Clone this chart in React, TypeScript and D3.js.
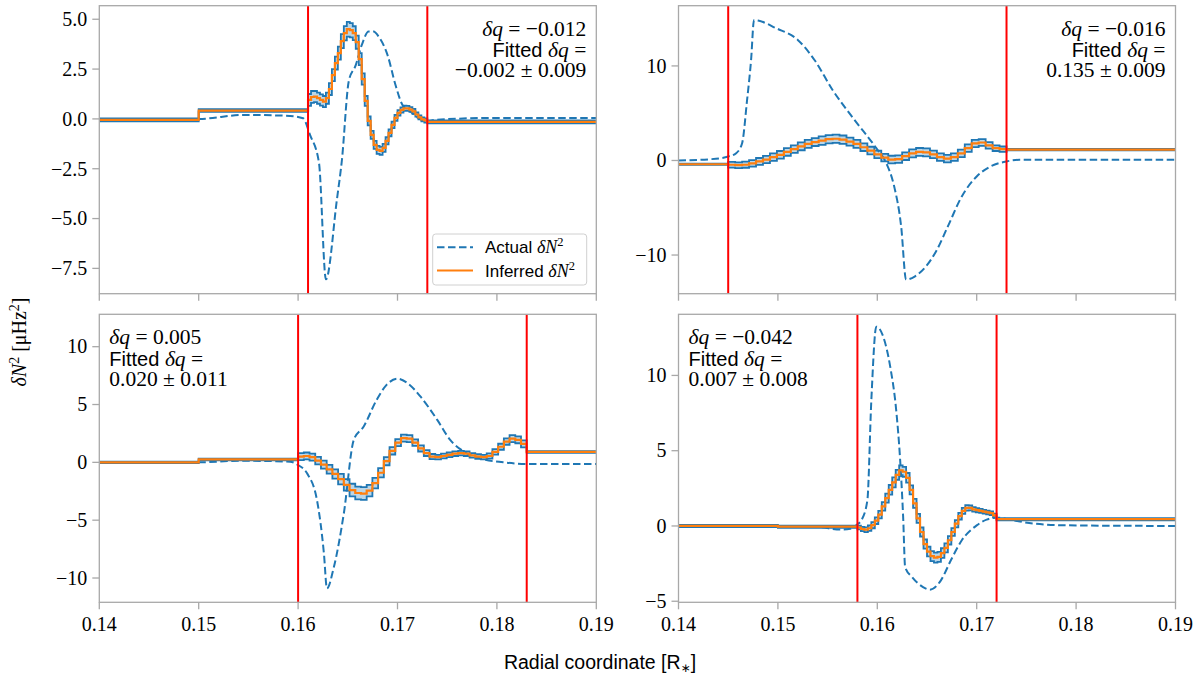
import * as d3 from 'd3'

const xDomain: [number, number] = [0.14, 0.19]
const xTicks = [0.14, 0.15, 0.16, 0.17, 0.18, 0.19]

// top-left panel
const tlActualX = [0.14, 0.15, 0.1545, 0.1592, 0.1605, 0.1612, 0.1621, 0.1628, 0.1639, 0.1644, 0.1651, 0.1658, 0.1664, 0.1671, 0.1676, 0.1681, 0.169, 0.1698, 0.1705, 0.1713, 0.1721, 0.173, 0.1737, 0.18, 0.19]
const tlActualY = [0, 0, 0.2, 0.15, 0.03, -0.8, -2.2, -8.05, -4.06, -2.1, 1.9, 2.7, 3.7, 4.38, 4.38, 4.13, 3.2, 1.7, 0.7, 0.37, 0.04, -0.13, -0.05, 0.05, 0.05]
const tlRed = [0.161, 0.173]
const tlLeftEdges = [0.14, 0.15]
const tlLeftVals = [-0.05, 0.42]
const tlRightVal = -0.15
const tlInner = [0.95, 1.1, 1.12, 1.04, 0.95, 0.87, 1.04, 1.5, 2.2, 2.8, 3.3, 3.9, 4.3, 4.5, 4.45, 4.3, 3.85, 3.0, 2.0, 0.9, -0.1, -0.8, -1.3, -1.55, -1.6, -1.45, -1.1, -0.7, -0.3, 0.05, 0.3, 0.45, 0.53, 0.53, 0.47, 0.38, 0.22, 0.08, -0.02, -0.08]
const tlInnerErr = [0.3, 0.3, 0.28, 0.28, 0.28, 0.28, 0.28, 0.3, 0.3, 0.32, 0.33, 0.35, 0.36, 0.37, 0.36, 0.35, 0.33, 0.3, 0.28, 0.25, 0.22, 0.2, 0.2, 0.2, 0.2, 0.2, 0.18, 0.17, 0.16, 0.15, 0.14, 0.13, 0.13, 0.12, 0.12, 0.12, 0.11, 0.1, 0.1, 0.1]
const tlYTicks = [-7.5, -5.0, -2.5, 0.0, 2.5, 5.0]
const tlYLim: [number, number] = [-8.77, 5.68]

// top-right panel
const trActualX = [0.14, 0.1433, 0.145, 0.1458, 0.1464, 0.1469, 0.1473, 0.1476, 0.148, 0.1498, 0.152, 0.1537, 0.1555, 0.1577, 0.1599, 0.1609, 0.1617, 0.1624, 0.1629, 0.1638, 0.1649, 0.166, 0.1671, 0.1685, 0.17, 0.1714, 0.173, 0.1743, 0.1793, 0.19]
const trActualY = [0, 0.14, 0.42, 0.77, 1.83, 6.4, 10.6, 14.86, 14.8, 14.0, 12.75, 10.6, 7.46, 4.3, 1.3, -0.28, -2.75, -6.97, -12.6, -12.25, -11.2, -9.44, -6.97, -3.8, -1.69, -0.63, -0.1, 0.07, 0.07, 0.07]
const trRed = [0.145, 0.173]
const trLeftEdges = [0.14]
const trLeftVals = [-0.4]
const trRightVal = 1.15
const trInner = [-0.45, -0.5, -0.45, -0.3, -0.1, 0.1, 0.35, 0.6, 0.9, 1.2, 1.5, 1.75, 1.95, 2.1, 2.25, 2.3, 2.2, 2.0, 1.75, 1.4, 1.05, 0.65, 0.3, 0.1, 0.15, 0.45, 0.75, 0.9, 0.85, 0.65, 0.35, 0.2, 0.35, 0.75, 1.3, 1.8, 1.9, 1.6, 1.3, 1.2]
const trInnerErr = [0.3, 0.3, 0.32, 0.34, 0.36, 0.38, 0.4, 0.4, 0.4, 0.4, 0.42, 0.42, 0.42, 0.44, 0.44, 0.44, 0.44, 0.42, 0.42, 0.4, 0.4, 0.4, 0.4, 0.4, 0.4, 0.4, 0.42, 0.42, 0.42, 0.4, 0.4, 0.4, 0.4, 0.4, 0.4, 0.38, 0.36, 0.34, 0.3, 0.28]
const trYTicks = [-10, 0, 10]
const trYLim: [number, number] = [-14.09, 16.37]

// bottom-left panel
const blActualX = [0.14, 0.15, 0.1542, 0.1592, 0.16, 0.1609, 0.1619, 0.1626, 0.1629, 0.1636, 0.1646, 0.1656, 0.1666, 0.1679, 0.1689, 0.17, 0.171, 0.1723, 0.174, 0.1753, 0.1767, 0.1787, 0.181, 0.183, 0.19]
const blActualY = [0, 0, 0.14, 0.06, -0.23, -0.95, -3.27, -7.9, -10.9, -9.05, -4.42, 1.94, 3.1, 5.4, 6.7, 7.23, 6.85, 5.7, 3.67, 1.94, 0.92, 0.26, -0.03, -0.14, -0.14]
const blRed = [0.16, 0.183]
const blLeftEdges = [0.14, 0.15]
const blLeftVals = [0, 0.25]
const blRightVal = 0.9
const blInner = [0.5, 0.55, 0.45, 0.15, -0.2, -0.6, -1.0, -1.45, -1.95, -2.4, -2.65, -2.7, -2.45, -1.8, -0.9, 0.1, 1.0, 1.7, 2.1, 2.05, 1.7, 1.2, 0.8, 0.5, 0.45, 0.55, 0.65, 0.75, 0.8, 0.75, 0.6, 0.5, 0.45, 0.55, 0.9, 1.35, 1.8, 2.05, 1.95, 1.6]
const blInnerErr = [0.3, 0.3, 0.3, 0.32, 0.35, 0.38, 0.4, 0.45, 0.5, 0.55, 0.55, 0.55, 0.5, 0.45, 0.4, 0.35, 0.32, 0.3, 0.3, 0.3, 0.28, 0.26, 0.25, 0.22, 0.2, 0.2, 0.2, 0.2, 0.2, 0.2, 0.2, 0.2, 0.2, 0.22, 0.24, 0.26, 0.28, 0.3, 0.3, 0.3]
const blYTicks = [-10, -5, 0, 5, 10]
const blYLim: [number, number] = [-12.1, 12.8]

// bottom-right panel
const brActualX = [0.15, 0.1541, 0.1563, 0.1573, 0.158, 0.1584, 0.159, 0.1594, 0.1599, 0.1606, 0.1613, 0.1619, 0.1623, 0.1626, 0.1628, 0.1635, 0.1646, 0.1653, 0.1664, 0.1674, 0.1685, 0.17, 0.171, 0.1721, 0.1736, 0.1757, 0.1793, 0.19]
const brActualY = [0, -0.07, -0.24, -0.18, 0.11, 0.38, 1.7, 8.36, 13.24, 12.57, 10.58, 7.7, 4.37, 0.6, -2.73, -3.39, -4.06, -4.23, -3.61, -2.28, -0.95, 0.04, 0.42, 0.55, 0.38, 0.16, 0.04, 0]
const brRed = [0.158, 0.172]
const brLeftEdges = [0.14, 0.15]
const brLeftVals = [0, -0.05]
const brRightVal = 0.45
const brInner = [-0.1, -0.2, -0.25, -0.15, 0.05, 0.35, 0.75, 1.3, 1.85, 2.4, 2.9, 3.4, 3.7, 3.6, 3.2, 2.4, 1.5, 0.5, -0.4, -1.2, -1.7, -2.0, -2.1, -2.05, -1.8, -1.45, -0.95, -0.4, 0.15, 0.65, 1.0, 1.2, 1.2, 1.1, 1.05, 1.0, 0.95, 0.9, 0.85, 0.7]
const brInnerErr = [0.12, 0.14, 0.16, 0.18, 0.2, 0.22, 0.25, 0.28, 0.3, 0.32, 0.33, 0.33, 0.33, 0.33, 0.32, 0.3, 0.3, 0.3, 0.3, 0.3, 0.32, 0.33, 0.33, 0.33, 0.32, 0.3, 0.28, 0.26, 0.24, 0.22, 0.2, 0.18, 0.16, 0.15, 0.14, 0.13, 0.12, 0.12, 0.12, 0.12]
const brYTicks = [-5, 0, 5, 10]
const brYLim: [number, number] = [-5.07, 14.06]

const trueDq = ['−0.012', '−0.016', '0.005', '−0.042']
const fittedDq = ['−0.002 ± 0.009', '0.135 ± 0.009', '0.020 ± 0.011', '0.007 ± 0.008']

const SERIF = '"Liberation Serif", "DejaVu Serif", serif'
const SANS = '"Liberation Sans", "DejaVu Sans", sans-serif'
const BLUE = '#1f77b4'
const ORANGE = '#ff7f0e'
const SPINE = '#a8a8a8'
const outerErr = 0.07

type StepPt = { x: number; v: number; e: number }

function buildSteps(leftEdges: number[], leftVals: number[], red: number[], inner: number[], innerErr: number[], rightVal: number): StepPt[] {
  const pts: StepPt[] = []
  leftEdges.forEach((x, i) => pts.push({ x, v: leftVals[i], e: outerErr }))
  const w = (red[1] - red[0]) / inner.length
  inner.forEach((v, i) => pts.push({ x: red[0] + i * w, v, e: innerErr[i] }))
  pts.push({ x: red[1], v: rightVal, e: outerErr })
  pts.push({ x: xDomain[1], v: rightVal, e: outerErr })
  return pts
}

const panels = [
  { id: 'tl', left: 99.3, top: 5.7, ax: tlActualX, ay: tlActualY, red: tlRed, steps: buildSteps(tlLeftEdges, tlLeftVals, tlRed, tlInner, tlInnerErr, tlRightVal), yTicks: tlYTicks, yLim: tlYLim, fmt: d3.format('.1f'), xLabels: false, annoRight: true, legend: true },
  { id: 'tr', left: 678.5, top: 5.7, ax: trActualX, ay: trActualY, red: trRed, steps: buildSteps(trLeftEdges, trLeftVals, trRed, trInner, trInnerErr, trRightVal), yTicks: trYTicks, yLim: trYLim, fmt: d3.format('d'), xLabels: false, annoRight: true, legend: false },
  { id: 'bl', left: 99.3, top: 314.3, ax: blActualX, ay: blActualY, red: blRed, steps: buildSteps(blLeftEdges, blLeftVals, blRed, blInner, blInnerErr, blRightVal), yTicks: blYTicks, yLim: blYLim, fmt: d3.format('d'), xLabels: true, annoRight: false, legend: false },
  { id: 'br', left: 678.5, top: 314.3, ax: brActualX, ay: brActualY, red: brRed, steps: buildSteps(brLeftEdges, brLeftVals, brRed, brInner, brInnerErr, brRightVal), yTicks: brYTicks, yLim: brYLim, fmt: d3.format('d'), xLabels: true, annoRight: false, legend: false },
]

const PW = 497
const PH = 288
const TICK = 7

const minus = (s: string) => s.replace('-', '−')

function Panel({ p, idx }: { p: typeof panels[number]; idx: number }) {
  const x = d3.scaleLinear().domain(xDomain).range([p.left, p.left + PW])
  const y = d3.scaleLinear().domain(p.yLim).range([p.top + PH, p.top])
  const bottom = p.top + PH
  const right = p.left + PW

  const actual = p.ax.map((xv, i) => [xv, p.ay[i]] as [number, number])
  const dashed = d3.line<[number, number]>().x(d => x(d[0])).y(d => y(d[1])).curve(d3.curveMonotoneX)(actual) || ''

  const stepLine = (acc: (d: StepPt) => number) =>
    d3.line<StepPt>().x(d => x(d.x)).y(d => y(acc(d))).curve(d3.curveStepAfter)(p.steps) || ''
  const band = d3.area<StepPt>().x(d => x(d.x)).y0(d => y(d.v - d.e)).y1(d => y(d.v + d.e)).curve(d3.curveStepAfter)(p.steps) || ''

  const annoX = p.annoRight ? right - 10 : p.left + 10
  const anchor = p.annoRight ? 'end' : 'start'
  const clip = `clip-${p.id}`

  return (
    <g>
      <defs>
        <clipPath id={clip}>
          <rect x={p.left} y={p.top} width={PW} height={PH} />
        </clipPath>
      </defs>
      <g clipPath={`url(#${clip})`}>
        <path d={dashed} fill="none" stroke={BLUE} strokeWidth={2} strokeDasharray="7.5,3.5" />
        <path d={band} fill={BLUE} fillOpacity={0.3} stroke="none" />
        <path d={stepLine(d => d.v + d.e)} fill="none" stroke={BLUE} strokeWidth={1.8} />
        <path d={stepLine(d => d.v - d.e)} fill="none" stroke={BLUE} strokeWidth={1.8} />
        <path d={stepLine(d => d.v)} fill="none" stroke={ORANGE} strokeWidth={2.2} />
        {p.red.map(r => (
          <line key={r} x1={x(r)} x2={x(r)} y1={p.top} y2={bottom} stroke="#ff0000" strokeWidth={2} />
        ))}
      </g>
      <rect x={p.left} y={p.top} width={PW} height={PH} fill="none" stroke={SPINE} strokeWidth={1.3} />
      {xTicks.map(t => (
        <g key={t}>
          <line x1={x(t)} x2={x(t)} y1={bottom} y2={bottom + TICK} stroke={SPINE} strokeWidth={1.3} />
          {p.xLabels && (
            <text x={x(t)} y={bottom + 28.5} textAnchor="middle" fontFamily={SERIF} fontSize={20} fill="#000">
              {t.toFixed(2)}
            </text>
          )}
        </g>
      ))}
      {p.yTicks.map(t => (
        <g key={t}>
          <line x1={p.left - TICK} x2={p.left} y1={y(t)} y2={y(t)} stroke={SPINE} strokeWidth={1.3} />
          <text x={p.left - 12} y={y(t)} dy="0.34em" textAnchor="end" fontFamily={SERIF} fontSize={20} fill="#000">
            {minus(p.fmt(t))}
          </text>
        </g>
      ))}
      <text x={annoX} y={p.top + 30} textAnchor={anchor} fontFamily={SERIF} fontSize={21.5} fill="#000">
        <tspan fontStyle="italic">δq</tspan>
        <tspan>{' = ' + trueDq[idx]}</tspan>
      </text>
      <text x={annoX} y={p.top + 51.5} textAnchor={anchor} fontSize={20} fill="#000">
        <tspan fontFamily={SANS}>Fitted </tspan>
        <tspan fontFamily={SERIF} fontStyle="italic" fontSize={21.5}>δq</tspan>
        <tspan fontFamily={SERIF} fontSize={21.5}> =</tspan>
      </text>
      <text x={annoX} y={p.top + 71.5} textAnchor={anchor} fontFamily={SERIF} fontSize={21.5} fill="#000">
        {fittedDq[idx]}
      </text>
      {p.legend && (
        <g>
          <rect x={432.7} y={234} width={154} height={51} rx={3} fill="#fff" fillOpacity={0.8} stroke="#d0d0d0" strokeWidth={1} />
          <line x1={437} x2={473} y1={247.3} y2={247.3} stroke={BLUE} strokeWidth={2} strokeDasharray="7.5,3.5" />
          <line x1={437} x2={473} y1={270.5} y2={270.5} stroke={ORANGE} strokeWidth={2.2} />
          <text x={485} y={253} fontSize={17} fill="#000">
            <tspan fontFamily={SANS}>Actual </tspan>
            <tspan fontFamily={SERIF} fontStyle="italic" fontSize={18}>δN</tspan>
            <tspan fontFamily={SERIF} fontSize={12.5} baselineShift="super">2</tspan>
          </text>
          <text x={485} y={276.5} fontSize={17} fill="#000">
            <tspan fontFamily={SANS}>Inferred </tspan>
            <tspan fontFamily={SERIF} fontStyle="italic" fontSize={18}>δN</tspan>
            <tspan fontFamily={SERIF} fontSize={12.5} baselineShift="super">2</tspan>
          </text>
        </g>
      )}
    </g>
  )
}

export default function App() {
  return (
    <svg width={1200} height={675} viewBox="0 0 1200 675" style={{ position: 'absolute', left: 0, top: 0, background: '#fff' }}>
      <rect width={1200} height={675} fill="#fff" />
      {panels.map((p, i) => (
        <Panel key={p.id} p={p} idx={i} />
      ))}
      <text x={600} y={669} textAnchor="middle" fontFamily={SANS} fontSize={19.5} fill="#000">
        Radial coordinate [R
        <tspan fontSize={12} dy={3}>∗</tspan>
        <tspan dy={-3}>]</tspan>
      </text>
      <text transform="translate(26,342) rotate(-90)" textAnchor="middle" fontFamily={SERIF} fontSize={20} fill="#000">
        <tspan fontStyle="italic">δN</tspan>
        <tspan fontSize={14} baselineShift="super">2</tspan>
        <tspan> [μHz</tspan>
        <tspan fontSize={14} baselineShift="super">2</tspan>
        <tspan>]</tspan>
      </text>
    </svg>
  )
}
